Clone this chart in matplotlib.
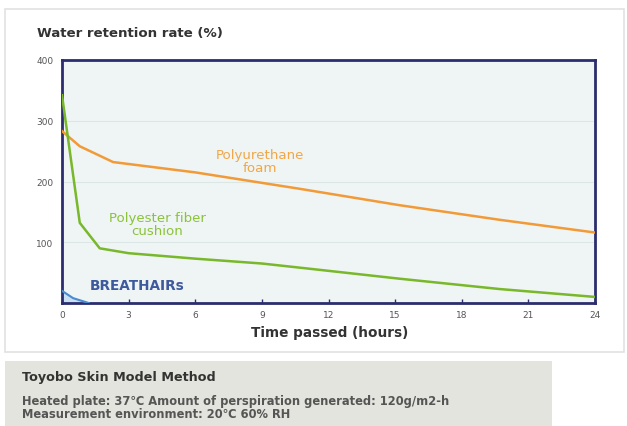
import matplotlib
matplotlib.use('Agg')
import matplotlib.pyplot as plt
from matplotlib.patches import Rectangle

plt.rcParams['font.family'] = ['DejaVu Sans', 'Noto Sans CJK JP']

# data
pu_hours = [0, 0.8, 2.3, 6, 10.7, 15.2, 19.7, 24]
pu_rate = [283, 258, 232, 215, 188, 161, 137, 116]

pe_hours = [0, 0.8, 1.7, 3, 6, 9, 11, 15.2, 19.7, 24]
pe_rate = [342, 132, 90, 82, 73, 65, 57, 40, 23, 10]

br_hours = [0, 0.5, 1.2]
br_rate = [20, 8, 0]

x_ticks = [0, 3, 6, 9, 12, 15, 18, 21, 24]
y_ticks = [100, 200, 300, 400]

fig = plt.figure(figsize=(6.27, 4.27), dpi=100)
fig.patch.set_facecolor('white')

# outer white panel and grey note box
fig.patches.append(Rectangle((5 / 627, 1 - 353 / 427), 619 / 627, 343 / 427,
                             transform=fig.transFigure, facecolor='white',
                             edgecolor='#e2e2e2', linewidth=1.2, zorder=-2))
fig.patches.append(Rectangle((5 / 627, 0), 547 / 627, 65 / 427,
                             transform=fig.transFigure, facecolor='#e4e4de',
                             edgecolor='none', zorder=-2))

ax = fig.add_axes([62 / 627, 1 - 304 / 427, 533 / 627, 243 / 427])
ax.set_zorder(1)
ax.set_facecolor('#eef5f4')

ax.plot(pu_hours, pu_rate, color='#f29a38', linewidth=1.8, zorder=3)
ax.plot(pe_hours, pe_rate, color='#78b82a', linewidth=1.8, zorder=3)
ax.fill_between(br_hours, br_rate, 0, color='#b8d8f0', alpha=0.7, zorder=2)
ax.plot(br_hours, br_rate, color='#4a8ad0', linewidth=1.5, zorder=3)

ax.text(8.9, 234, 'Polyurethane\nfoam', color='#f2a646', fontsize=9.6,
        ha='center', va='center', linespacing=1.0)
ax.text(4.3, 130, 'Polyester fiber\ncushion', color='#8cc23a', fontsize=9.6,
        ha='center', va='center', linespacing=1.0)
ax.text(3.4, 30, 'BREATHAIRs', color='#3d5a9c', fontsize=9.8,
        fontweight='bold', ha='center', va='center')

ax.set_xlim(0, 24)
ax.set_ylim(0, 400)
ax.set_xticks(x_ticks)
ax.set_yticks(y_ticks)
ax.tick_params(axis='x', direction='in', length=3, width=1, color='#2b2d6e',
               labelsize=6.5, labelcolor='#555555', pad=5)
ax.tick_params(axis='y', length=0, labelsize=6.5, labelcolor='#555555', pad=6)
ax.grid(axis='y', color='#dce7e5', linewidth=0.8)
ax.set_axisbelow(True)
for sp in ax.spines.values():
    sp.set_color('#2b2d6e')
    sp.set_linewidth(2)

fig.text(37 / 627, 1 - 33 / 427, 'Water retention rate (%)', fontsize=9.6,
         fontweight='bold', color='#333333', ha='left', va='center')
fig.text(330 / 627, 1 - 333 / 427, 'Time passed (hours)', fontsize=9.8,
         fontweight='bold', color='#333333', ha='center', va='center')

fig.text(22 / 627, 1 - 378 / 427, 'Toyobo Skin Model Method', fontsize=9.2,
         fontweight='bold', color='#333333', ha='left', va='center')
fig.text(22 / 627, 1 - 408 / 427,
         'Heated plate: 37\u2103 Amount of perspiration generated: 120g/m2-h\n'
         'Measurement environment: 20\u2103 60% RH',
         fontsize=8.3, fontweight='bold', color='#555555', ha='left',
         va='center', linespacing=0.95)

fig.savefig('out.png', dpi=100, facecolor='white')
